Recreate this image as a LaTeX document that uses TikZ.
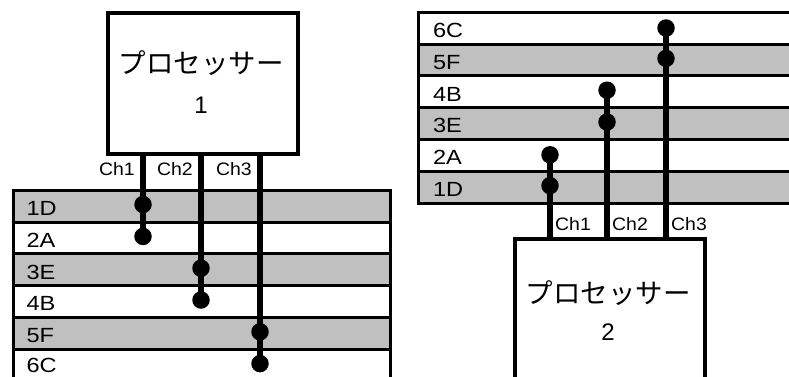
\documentclass[tikz,border=0pt]{standalone}
\usepackage{fontspec}
\setmainfont{Liberation Sans}
\newfontfamily\labfont[FakeStretch=1.15]{Liberation Sans}
\newfontfamily\chfont[FakeStretch=1.08]{Liberation Sans}
\newfontfamily\jpfont{Noto Sans CJK JP}
\definecolor{rowgray}{HTML}{C0C0C0}
\tikzset{
  rowbox/.style={draw=black, line width=3pt, minimum width=377pt, minimum height=31.8pt,
    inner xsep=13pt, inner ysep=0pt, text width=351pt, align=left, anchor=north west,
    text height=18.7pt, text depth=0pt,
    font=\fontsize{20.5}{22}\selectfont\labfont},
  rowg/.style={rowbox, fill=rowgray},
  roww/.style={rowbox, fill=white},
  procbox/.style={draw=black, line width=4.3pt, fill=white, minimum width=190pt, minimum height=141pt,
    anchor=north west, inner sep=0pt},
  chan/.style={line width=5.7pt},
  dot/.style={circle, fill=black, minimum size=17.5pt, inner sep=0pt},
  chlab/.style={font=\fontsize{18}{20}\selectfont\chfont, inner sep=0pt},
  ptext/.style={font=\fontsize{27.5}{29}\selectfont\jpfont, inner sep=0pt},
  pnum/.style={font=\fontsize{24}{26}\selectfont, inner sep=0pt}
}
\begin{document}
\begin{tikzpicture}[x=1pt,y=-1pt]
\useasboundingbox (0,0) rectangle (789,376);
% ---------- left group ----------
\node[rowg] (L1) at (12,188.7) {1D};
\node[roww] (L2) at (12,220.5) {2A};
\node[rowg] (L3) at (12,252.3) {3E};
\node[roww] (L4) at (12,284.1) {4B};
\node[rowg] (L5) at (12,315.9) {5F};
\node[roww, text height=15.5pt] (L6) at (12,347.7) {6C};
\node[procbox] (P1) at (106,10.7) {};
\node[ptext] (P1a) at (201,63) {プロセッサー};
\node[pnum] (P1b) at (201,105) {1};
\node[dot] (a1) at (143,204.5) {};
\node[dot] (a2) at (143,236.4) {};
\node[dot] (b1) at (201,268.2) {};
\node[dot] (b2) at (201,300) {};
\node[dot] (c1) at (260,331.8) {};
\node[dot] (c2) at (260,363.6) {};
\draw[chan] (a2.center) -- (a2.center |- P1.south);
\draw[chan] (b2.center) -- (b2.center |- P1.south);
\draw[chan] (c2.center) -- (c2.center |- P1.south);
\node[chlab, anchor=east] (la) at (135,169) {Ch1};
\node[chlab, anchor=east] (lb) at (193,169) {Ch2};
\node[chlab, anchor=east] (lc) at (252,169) {Ch3};
% ---------- right group ----------
\node[roww, minimum width=380pt] (R6) at (417,10.7) {6C};
\node[rowg, minimum width=380pt] (R5) at (417,42.5) {5F};
\node[roww, minimum width=380pt] (R4) at (417,74.3) {4B};
\node[rowg, minimum width=380pt] (R3) at (417,106.1) {3E};
\node[roww, minimum width=380pt] (R2) at (417,137.9) {2A};
\node[rowg, minimum width=380pt] (R1) at (417,169.7) {1D};
\node[procbox] (P2) at (513,237) {};
\node[ptext] (P2a) at (608,293) {プロセッサー};
\node[pnum] (P2b) at (608,332) {2};
\node[dot] (d1) at (550,185.6) {};
\node[dot] (d2) at (550,154.8) {};
\node[dot] (e1) at (607,122) {};
\node[dot] (e2) at (607,90.2) {};
\node[dot] (f1) at (666,58.4) {};
\node[dot] (f2) at (666,28) {};
\draw[chan] (d2.center) -- (d2.center |- P2.north);
\draw[chan] (e2.center) -- (e2.center |- P2.north);
\draw[chan] (f2.center) -- (f2.center |- P2.north);
\node[chlab, anchor=west] (ld) at (555,224) {Ch1};
\node[chlab, anchor=west] (le) at (612,224) {Ch2};
\node[chlab, anchor=west] (lf) at (671,224) {Ch3};
\end{tikzpicture}
\end{document}
